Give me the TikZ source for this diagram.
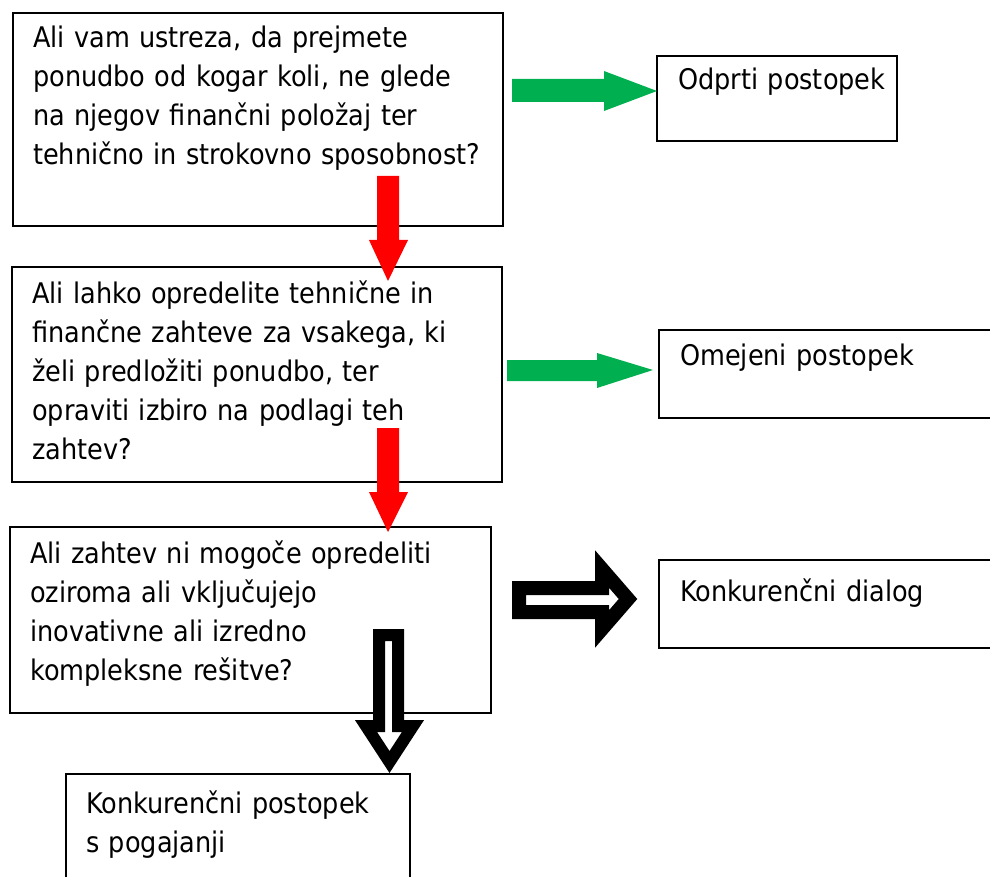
\documentclass[tikz,border=0pt]{standalone}
\usepackage{fontspec}
\setmainfont{DejaVu Sans Condensed}
\definecolor{goarrow}{HTML}{00B050}
\definecolor{noarrow}{HTML}{FF0000}
\tikzset{
  box/.style={draw=black, line width=1.6pt, fill=white, rectangle, inner sep=0pt, anchor=north west},
  label/.style={anchor=base west, inner sep=0pt, text width=480pt, align=left,
                font=\fontsize{28.4}{39}\selectfont},
  yesarrow/.style={fill=goarrow, draw=none},
  noarrowfill/.style={fill=noarrow, draw=none},
  hollowarrow/.style={draw=black, fill=white, line join=miter, miter limit=10}
}
\begin{document}
\begin{tikzpicture}[x=1pt, y=-1pt]
  \clip (0,0) rectangle (990,877);
  \fill[white] (0,0) rectangle (990,877);

  % question boxes
  \node[box, minimum width=490pt, minimum height=213pt] (q1) at (12,12) {};
  \node[box, minimum width=490pt, minimum height=215pt] (q2) at (11,266) {};
  \node[box, minimum width=481pt, minimum height=186pt] (q3) at (9,526) {};

  % outcome boxes
  \node[box, minimum width=240pt, minimum height=85pt] (odprti) at (656,55) {};
  \node[box, minimum width=340pt, minimum height=88pt] (omejeni) at (658,329) {};
  \node[box, minimum width=340pt, minimum height=88pt] (dialog) at (658,559) {};
  \node[box, minimum width=344pt, minimum height=130pt] (pogajanja) at (65,773) {};

  % texts
  \node[label] (t1) at (33,48) {Ali vam ustreza, da prejmete\\ponudbo od kogar koli, ne glede\\na njegov finančni položaj ter\\tehnično in strokovno sposobnost?};
  \node[label] (t2) at (32,303) {Ali lahko opredelite tehnične in\\finančne zahteve za vsakega, ki\\želi predložiti ponudbo, ter\\opraviti izbiro na podlagi teh\\zahtev?};
  \node[label] (t3) at (30,563) {Ali zahtev ni mogoče opredeliti\\oziroma ali vključujejo\\inovativne ali izredno\\kompleksne rešitve?};
  \node[label] (t4) at (678,90) {Odprti postopek};
  \node[label] (t5) at (680,365) {Omejeni postopek};
  \node[label] (t6) at (680,601) {Konkurenčni dialog};
  \node[label] (t7) at (86,813) {Konkurenčni postopek\\s pogajanji};

  % "yes" arrows
  \path[yesarrow] (512,79) -- (604,79) -- (604,71) -- (657,91) -- (604,111) -- (604,102) -- (512,102) -- cycle;
  \path[yesarrow] (507,360) -- (597,360) -- (597,353) -- (653,370) -- (597,388) -- (597,381) -- (507,381) -- cycle;

  % "no" arrows
  \path[noarrowfill] (377,176) -- (399,176) -- (399,240) -- (408,240) -- (388,281) -- (369,240) -- (377,240) -- cycle;
  \path[noarrowfill] (377,428) -- (399,428) -- (399,492) -- (408,492) -- (388,532) -- (369,492) -- (377,492) -- cycle;

  % hollow arrows from the last question
  \draw[hollowarrow, line width=14pt] (519,588) -- (602,588) -- (602,569) -- (628,599) -- (602,629) -- (602,612) -- (519,612) -- cycle;
  \draw[hollowarrow, line width=12pt] (379,635) -- (398,635) -- (398,726) -- (413,726) -- (389.5,762) -- (366,726) -- (379,726) -- cycle;
\end{tikzpicture}
\end{document}
